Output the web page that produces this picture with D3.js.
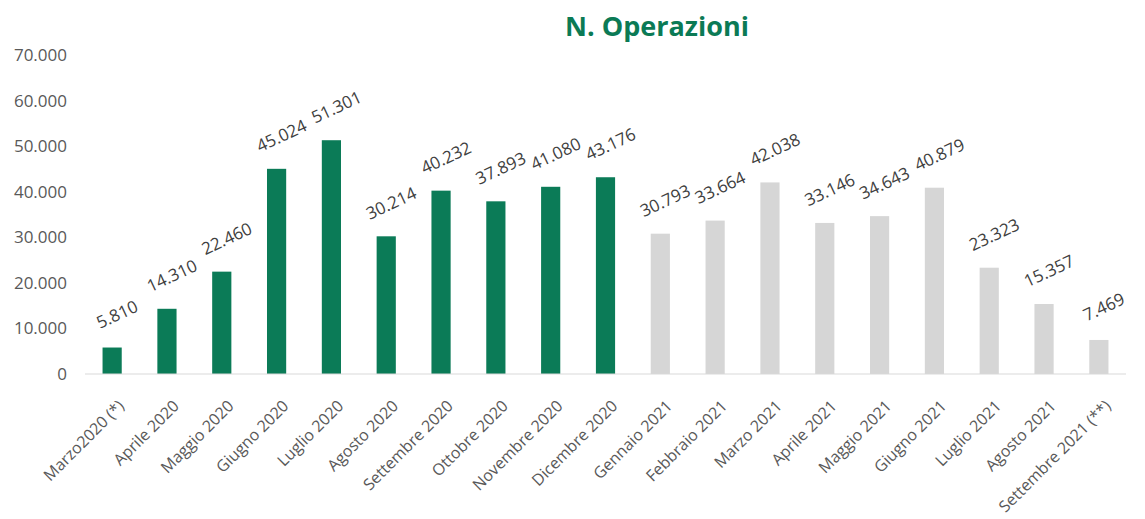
<!DOCTYPE html>
<html>
<head>
<meta charset="utf-8">
<script src="https://cdn.jsdelivr.net/npm/d3@7"></script>
<style>
  body { margin: 0; background: #fff; }
</style>
</head>
<body>
<div id="chart"></div>
<script>
var categories = ["Marzo2020 (*)", "Aprile 2020", "Maggio 2020", "Giugno 2020", "Luglio 2020",
    "Agosto 2020", "Settembre 2020", "Ottobre 2020", "Novembre 2020", "Dicembre 2020",
    "Gennaio 2021", "Febbraio 2021", "Marzo 2021", "Aprile 2021", "Maggio 2021",
    "Giugno 2021", "Luglio 2021", "Agosto 2021", "Settembre 2021 (**)"];
var values = [5810, 14310, 22460, 45024, 51301, 30214, 40232, 37893, 41080, 43176,
    30793, 33664, 42038, 33146, 34643, 40879, 23323, 15357, 7469];
var valueLabels = ["5.810", "14.310", "22.460", "45.024", "51.301", "30.214", "40.232", "37.893", "41.080", "43.176",
    "30.793", "33.664", "42.038", "33.146", "34.643", "40.879", "23.323", "15.357", "7.469"];
var yTicks = [0, 10000, 20000, 30000, 40000, 50000, 60000, 70000];
var title = "N. Operazioni";

function init(){
    var w = 1145, h = 519;
    var left = 85, right = 1126, top = 55, bottom = 374;
    var font = "'Open Sans', sans-serif";

    var svg = d3.select("#chart").append("svg")
        .attr("width", w).attr("height", h);

    var xScale = d3.scaleBand().domain(categories).range([left, right]).paddingInner(0.65).paddingOuter(0.32);
    var yScale = d3.scaleLinear().domain([0, 70000]).range([bottom, top]);

    svg.append("text")
        .attr("x", 657).attr("y", 36)
        .attr("text-anchor", "middle")
        .attr("font-family", font)
        .attr("font-weight", "bold")
        .attr("font-size", 27)
        .attr("fill", "#0b7a55")
        .text(title);

    var fmt = function(d){ return d === 0 ? "0" : d3.format(",")(d).replace(/,/g, "."); };
    var yAxis = d3.axisLeft(yScale).tickValues(yTicks).tickSize(0).tickPadding(0).tickFormat(fmt);
    var gy = svg.append("g").attr("transform", "translate(67,0)").call(yAxis);
    gy.select(".domain").remove();
    gy.selectAll("text")
        .attr("font-family", font)
        .attr("font-size", 17)
        .attr("fill", "#595959");

    svg.selectAll("rect.bar")
        .data(values)
        .enter()
        .append("rect")
        .attr("class", "bar")
        .attr("x", function(d, i){ return xScale(categories[i]); })
        .attr("y", function(d){ return yScale(d); })
        .attr("width", xScale.bandwidth())
        .attr("height", function(d){ return bottom - yScale(d); })
        .attr("fill", function(d, i){ return i < 10 ? "#0b7b57" : "#d6d6d6"; });

    var xAxis = d3.axisBottom(xScale).tickSize(0).tickSizeOuter(0).tickPadding(0);
    var gx = svg.append("g").attr("transform", "translate(0," + bottom + ")").call(xAxis);
    gx.select(".domain").attr("stroke", "#d9d9d9").attr("d", "M" + left + ",0H" + right);
    gx.selectAll("text")
        .attr("font-family", font)
        .attr("font-size", 16)
        .attr("fill", "#595959")
        .attr("text-anchor", "end")
        .attr("dy", 0)
        .attr("transform", "translate(13,33) rotate(-45)");

    svg.selectAll("text.vlabel")
        .data(values)
        .enter()
        .append("text")
        .attr("class", "vlabel")
        .attr("text-anchor", "middle")
        .attr("dy", "0.35em")
        .attr("transform", function(d, i){
            var cx = xScale(categories[i]) + xScale.bandwidth() / 2 + 5;
            var cy = yScale(d) - 33;
            return "translate(" + cx + "," + cy + ") rotate(-25)";
        })
        .attr("font-family", font)
        .attr("font-size", 17)
        .attr("fill", "#404040")
        .text(function(d, i){ return valueLabels[i]; });
}
window.onload = init;
</script>
</body>
</html>
